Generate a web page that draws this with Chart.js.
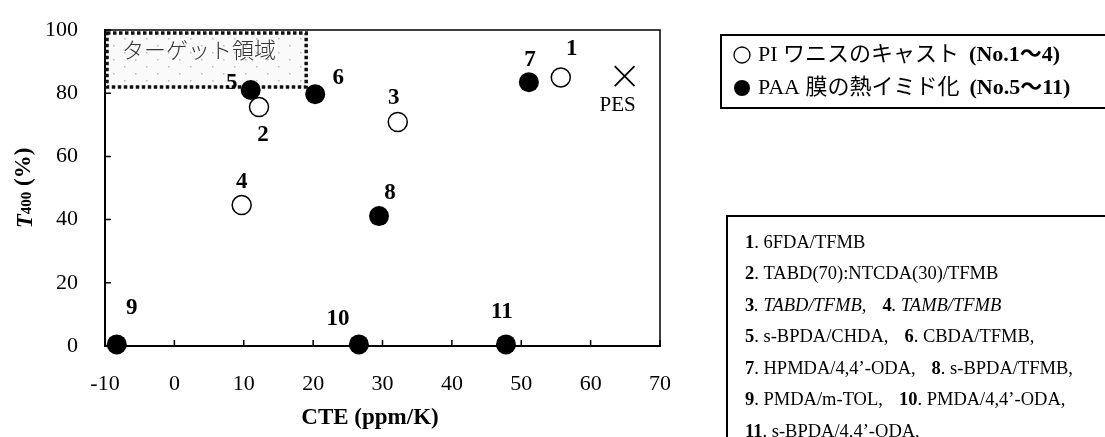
<!DOCTYPE html>
<html>
<head>
<meta charset="utf-8">
<script src="https://cdn.jsdelivr.net/npm/chart.js@4"></script>
<style>
  html, body { margin: 0; padding: 0; background: #fff; }
  #wrap { width: 1105px; height: 437px; }
</style>
</head>
<body>
<div id="wrap"><canvas id="grafico" width="1105" height="437"></canvas></div>
<script>
// data
const piNo = ['1', '2', '3', '4'];
const piCTE = [55.7, 12.2, 32.2, 9.7];
const piT400 = [85, 75.6, 70.9, 44.6];

const paaNo = ['5', '6', '7', '8', '9', '10', '11'];
const paaCTE = [11, 20.3, 51.1, 29.5, -8.3, 26.6, 47.8];
const paaT400 = [81, 79.7, 83.5, 41.1, 0.5, 0.5, 0.5];

const refName = ['PES'];
const refCTE = [64.9];
const refT400 = [85.4];

const targetCTE = [-10, 19];
const targetT400 = [82, 100];
const targetText = 'ターゲット領域';

const xTicks = [-10, 0, 10, 20, 30, 40, 50, 60, 70];
const yTicks = [0, 20, 40, 60, 80, 100];

const seriesNames = ['PI ワニスのキャスト', 'PAA 膜の熱イミド化'];
const seriesRanges = ['(No.1〜4)', '(No.5〜11)'];

const polymerNo = ['1', '2', '3', '4', '5', '6', '7', '8', '9', '10', '11'];
const polymerName = ['6FDA/TFMB', 'TABD(70):NTCDA(30)/TFMB', 'TABD/TFMB', 'TAMB/TFMB',
  's-BPDA/CHDA', 'CBDA/TFMB', 'HPMDA/4,4’-ODA', 's-BPDA/TFMB', 'PMDA/m-TOL',
  'PMDA/4,4’-ODA', 's-BPDA/4,4’-ODA'];
const polymerRows = [[0], [1], [2, 3], [4, 5], [6, 7], [8, 9], [10]];

// where each number label sits relative to its point (px)
const labelOffset = {
  '1': [11, -28], '2': [4, 28], '3': [-4, -24], '4': [0, -23],
  '5': [-19, -7], '6': [23, -16], '7': [1, -22], '8': [11, -23],
  '9': [15, -36], '10': [-21, -25], '11': [-4, -32], 'PES': [-7, 29]
};

const SERIF = '"Liberation Serif", "Noto Sans CJK JP", serif';

function toPts(xs, ys) {
  return xs.map((x, i) => ({ x: x, y: ys[i] }));
}

function dotPattern(ctx) {
  const c = document.createElement('canvas');
  c.width = 22; c.height = 14;
  const p = c.getContext('2d');
  p.fillStyle = '#fafafa';
  p.fillRect(0, 0, 22, 14);
  p.fillStyle = '#b8b8b8';
  p.fillRect(3, 3, 1.5, 1.5);
  p.fillRect(14, 10, 1.5, 1.5);
  return ctx.createPattern(c, 'repeat');
}

const figPlugin = {
  id: 'fig',
  beforeDatasetsDraw(chart) {
    const ctx = chart.ctx;
    const xs = chart.scales.x, ys = chart.scales.y;
    const x0 = xs.getPixelForValue(targetCTE[0]) + 2;
    const x1 = xs.getPixelForValue(targetCTE[1]);
    const y0 = ys.getPixelForValue(targetT400[1]) + 3;
    const y1 = ys.getPixelForValue(targetT400[0]);
    ctx.save();
    ctx.fillStyle = dotPattern(ctx);
    ctx.fillRect(x0, y0, x1 - x0, y1 - y0);
    ctx.strokeStyle = '#111';
    ctx.lineWidth = 3.5;
    ctx.setLineDash([3.5, 2.5]);
    ctx.strokeRect(x0, y0, x1 - x0, y1 - y0);
    ctx.setLineDash([]);
    ctx.fillStyle = '#333';
    ctx.font = '300 22px "Noto Sans CJK JP"';
    ctx.textBaseline = 'middle';
    ctx.fillText(targetText, x0 + 15, y0 + 17);
    ctx.restore();
  },
  afterDatasetsDraw(chart) {
    const ctx = chart.ctx;
    const a = chart.chartArea;
    const xs = chart.scales.x, ys = chart.scales.y;
    ctx.save();
    // top and right frame
    ctx.strokeStyle = '#000';
    ctx.lineWidth = 1.5;
    ctx.beginPath();
    ctx.moveTo(a.left, a.top);
    ctx.lineTo(a.right, a.top);
    ctx.lineTo(a.right, a.bottom);
    ctx.stroke();
    // inward ticks
    ctx.beginPath();
    xTicks.forEach(v => {
      const px = xs.getPixelForValue(v);
      ctx.moveTo(px, a.bottom);
      ctx.lineTo(px, a.bottom - 6);
    });
    yTicks.forEach(v => {
      const py = ys.getPixelForValue(v);
      ctx.moveTo(a.left, py);
      ctx.lineTo(a.left + 6, py);
    });
    ctx.stroke();
    // point labels
    ctx.fillStyle = '#000';
    ctx.textAlign = 'center';
    ctx.textBaseline = 'middle';
    chart.data.datasets.forEach((ds, di) => {
      const meta = chart.getDatasetMeta(di);
      meta.data.forEach((el, i) => {
        const name = ds.names[i];
        const off = labelOffset[name] || [0, -20];
        ctx.font = name === 'PES' ? '21px ' + SERIF : 'bold 23px ' + SERIF;
        ctx.fillText(name, el.x + off[0], el.y + off[1]);
      });
    });
    ctx.restore();
  },
  afterDraw(chart) {
    const ctx = chart.ctx;
    ctx.save();
    ctx.textBaseline = 'middle';
    ctx.fillStyle = '#000';
    // x axis title
    ctx.textAlign = 'center';
    ctx.font = 'bold 23px ' + SERIF;
    ctx.fillText('CTE (ppm/K)', 370, 418);
    // y axis title: T400 (%)
    ctx.translate(24, 188);
    ctx.rotate(-Math.PI / 2);
    const parts = [
      ['italic bold 23px ' + SERIF, 'T', 2],
      ['bold 15px ' + SERIF, '400', 3],
      ['bold 23px ' + SERIF, ' (%)', 0]
    ];
    let w = 0;
    parts.forEach(p => { ctx.font = p[0]; w += ctx.measureText(p[1]).width; });
    let cx = -w / 2;
    ctx.textAlign = 'left';
    parts.forEach(p => {
      ctx.font = p[0];
      ctx.fillText(p[1], cx, p[2]);
      cx += ctx.measureText(p[1]).width;
    });
    ctx.setTransform(1, 0, 0, 1, 0, 0);

    // series legend box
    ctx.strokeStyle = '#000';
    ctx.lineWidth = 2;
    ctx.strokeRect(721, 35, 400, 73);
    const rowsY = [55, 88];
    rowsY.forEach((yy, i) => {
      ctx.beginPath();
      ctx.arc(742, yy, 8, 0, Math.PI * 2);
      if (i === 0) {
        ctx.lineWidth = 1.3;
        ctx.stroke();
      } else {
        ctx.fill();
      }
      ctx.font = '22px ' + SERIF;
      ctx.fillText(seriesNames[i], 758, yy);
      const tw = ctx.measureText(seriesNames[i]).width;
      ctx.font = 'bold 22px ' + SERIF;
      ctx.fillText(seriesRanges[i], 758 + tw + 10, yy);
    });

    // polymer list box
    ctx.lineWidth = 2;
    ctx.beginPath();
    ctx.moveTo(1120, 216);
    ctx.lineTo(727, 216);
    ctx.lineTo(727, 440);
    ctx.stroke();
    polymerRows.forEach((row, r) => {
      const yy = 243 + r * 31.5;
      let xx = 745;
      row.forEach((idx, k) => {
        if (k > 0) xx += 16;
        ctx.font = 'bold 18.5px ' + SERIF;
        ctx.fillText(polymerNo[idx], xx, yy);
        xx += ctx.measureText(polymerNo[idx]).width;
        ctx.font = (r === 2 ? 'italic ' : '') + '18.5px ' + SERIF;
        const t = '. ' + polymerName[idx] + (r >= 3 || (r === 2 && k === 0) ? ',' : '');
        ctx.fillText(t, xx, yy);
        xx += ctx.measureText(t).width;
      });
    });
    ctx.restore();
  }
};

const ctx = document.getElementById('grafico');

new Chart(ctx, {
  type: 'scatter',
  data: {
    datasets: [
      {
        label: seriesNames[0],
        names: piNo,
        data: toPts(piCTE, piT400),
        pointStyle: 'circle',
        pointRadius: 9.5,
        pointHoverRadius: 9.5,
        backgroundColor: '#fff',
        borderColor: '#000',
        borderWidth: 1.5,
        clip: false
      },
      {
        label: seriesNames[1],
        names: paaNo,
        data: toPts(paaCTE, paaT400),
        pointStyle: 'circle',
        pointRadius: 10,
        pointHoverRadius: 10,
        backgroundColor: '#000',
        borderColor: '#000',
        borderWidth: 0,
        clip: false
      },
      {
        label: refName[0],
        names: refName,
        data: toPts(refCTE, refT400),
        pointStyle: 'crossRot',
        pointRadius: 14,
        pointHoverRadius: 14,
        borderColor: '#000',
        borderWidth: 1.8,
        clip: false
      }
    ]
  },
  options: {
    responsive: false,
    animation: false,
    events: [],
    layout: { padding: { top: 30, right: 445, bottom: 0, left: 0 } },
    plugins: {
      legend: { display: false },
      tooltip: { enabled: false }
    },
    scales: {
      x: {
        type: 'linear',
        min: xTicks[0],
        max: xTicks[xTicks.length - 1],
        afterFit: s => { s.height = 91; s.paddingLeft = 0; s.paddingRight = 0; },
        afterBuildTicks: s => { s.ticks = xTicks.map(v => ({ value: v })); },
        border: { display: true, color: '#000', width: 2 },
        grid: { drawOnChartArea: false, drawTicks: false },
        ticks: { color: '#000', padding: 25, font: { family: SERIF, size: 22 } }
      },
      y: {
        type: 'linear',
        min: yTicks[0],
        max: yTicks[yTicks.length - 1],
        afterFit: s => { s.width = 105; s.paddingTop = 0; s.paddingBottom = 0; },
        afterBuildTicks: s => { s.ticks = yTicks.map(v => ({ value: v })); },
        border: { display: true, color: '#000', width: 2 },
        grid: { drawOnChartArea: false, drawTicks: false },
        ticks: { color: '#000', padding: 27, font: { family: SERIF, size: 22 } }
      }
    }
  },
  plugins: [figPlugin]
});
</script>
</body>
</html>
